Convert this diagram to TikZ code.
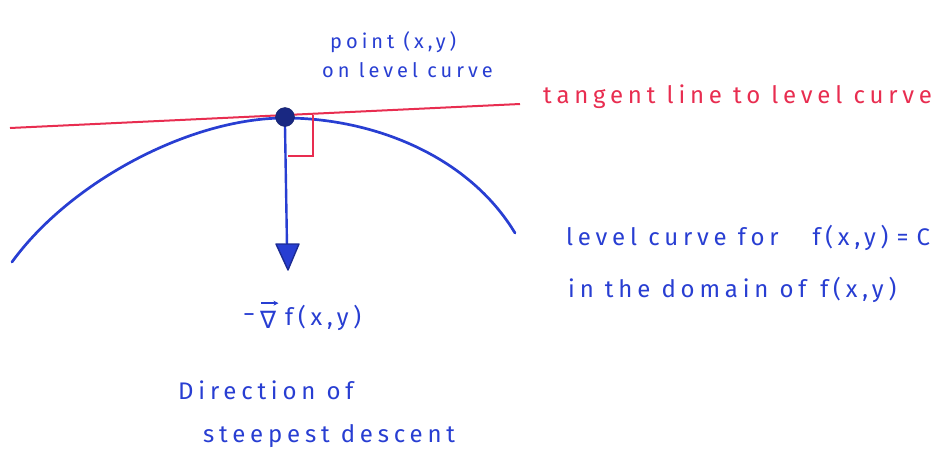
\documentclass[tikz,border=0pt]{standalone}
\usepackage{fontspec}
\usetikzlibrary{arrows.meta}
\setmainfont{Fira Sans}
\newfontfamily\symfont{DejaVu Sans}
\definecolor{penblue}{RGB}{40,62,210}
\definecolor{penred}{RGB}{232,45,80}
\definecolor{dotblue}{RGB}{25,40,130}
\begin{document}
\begin{tikzpicture}[x=1pt,y=-1pt,
  lbl/.style={inner sep=0pt, font=\fontsize{24}{28}\selectfont\addfontfeature{LetterSpace=20}},
  smalllbl/.style={inner sep=0pt, text=penblue, font=\fontsize{20}{24}\selectfont\addfontfeature{LetterSpace=20}},
  bluelbl/.style={lbl, text=penblue},
  redlbl/.style={lbl, text=penred},
  curve/.style={draw=penblue, line width=2.7pt, line cap=round},
  tangent/.style={draw=penred, line width=2pt},
  rightmark/.style={draw=penred, line width=2.4pt},
  gradarrow/.style={draw=penblue, line width=2.4pt},
  vecarrow/.style={draw=penblue, line width=1.5pt, -{Stealth[length=5pt,width=5pt]}}]
\useasboundingbox (0,0) rectangle (948,456);
% level curve
\coordinate (cl) at (12,262);
\coordinate (p) at (285,118);
\coordinate (cr) at (515,233);
\draw[curve] (cl) .. controls (70,182) and (190,118) .. (p)
                  .. controls (372,118) and (468,155) .. (cr);
% tangent line
\coordinate (tl) at (10,128);
\coordinate (tr) at (520,104);
\draw[tangent] (tl) -- (tr);
% right-angle marker
\coordinate (ra) at (313,115);
\coordinate (rb) at (313,156);
\coordinate (rc) at (288,156);
\draw[rightmark] (ra) -- (rb) -- (rc);
% gradient arrow
\coordinate (as) at (285,126);
\coordinate (ae) at (287,246);
\draw[gradarrow] (as) -- (ae);
\coordinate (h1) at (276,244);
\coordinate (h2) at (299,244);
\coordinate (h3) at (288,270);
\filldraw[draw=penblue!70!black, fill=penblue, line width=1.4pt, line join=round] (h1) -- (h2) -- (h3) -- cycle;
% point
\node[circle, fill=dotblue, draw=dotblue!80!black, minimum size=19pt, inner sep=0pt] (pt) at (285,117) {};
% labels
\node[smalllbl, anchor=west] (l1) at (330,42) {point (x,y)};
\node[smalllbl, anchor=west] (l2) at (322,70) {on level curve};
\node[redlbl, anchor=west] (l3) at (543,97) {tangent line to level curve};
\node[bluelbl, anchor=west] (l4) at (566,238) {level curve for\hspace{34pt}f(x,y)\,\,=\,\,C};
\node[bluelbl, anchor=west] (l5) at (568,290) {in the domain of\hspace{14pt}f(x,y)};
% -grad f(x,y)
\node[bluelbl, anchor=west] (l6a) at (243,318) {−};
\node[text=penblue, inner sep=0pt, font=\symfont\fontsize{24}{28}\selectfont, anchor=west] (l6b) at (260,320) {∇};
\node[bluelbl, anchor=west] (l6c) at (285,318) {f(x,y)};
\draw[vecarrow] ([xshift=1pt,yshift=8pt]l6b.north west) -- ([xshift=2pt,yshift=8pt]l6b.north east);
\node[bluelbl, anchor=west] (l7) at (178,390) {Direction of};
\node[bluelbl, anchor=west] (l8) at (203,436) {steepest descent};
\end{tikzpicture}
\end{document}
